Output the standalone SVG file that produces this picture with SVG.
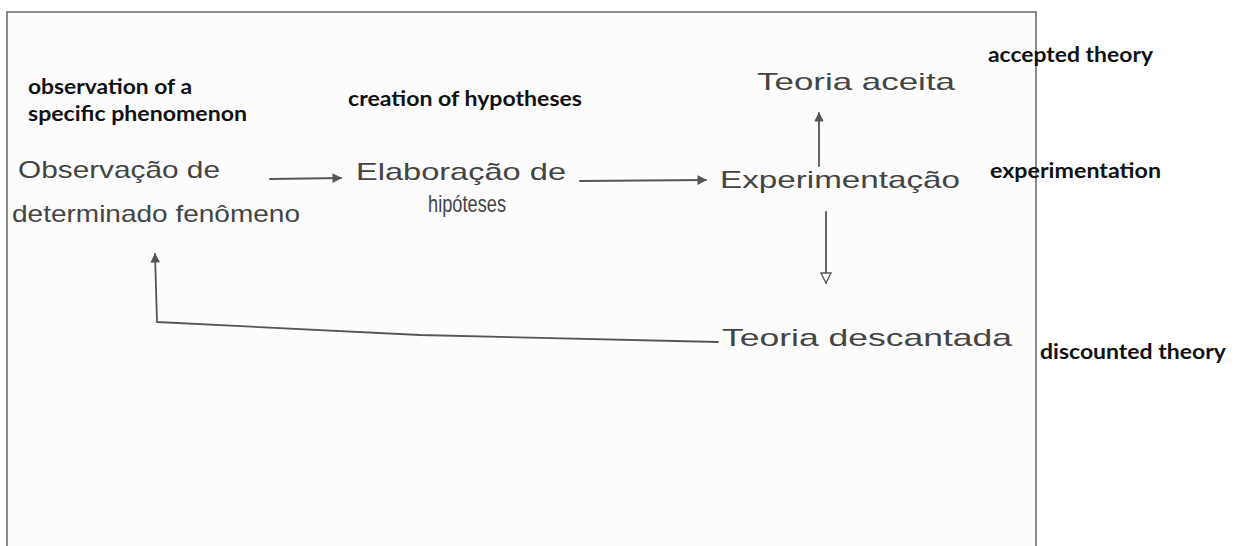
<svg xmlns="http://www.w3.org/2000/svg" width="1234" height="546" viewBox="0 0 1234 546">
<defs>
<style>
.lbl{font-family:Lato,"Open Sans","Liberation Sans",sans-serif;font-weight:bold;font-size:20px;fill:#111}
.hw{font-family:"Liberation Sans","DejaVu Sans",sans-serif;font-size:24px;fill:#444}
.ln{fill:none;stroke:#555;stroke-width:1.8;stroke-linecap:round;stroke-linejoin:round}
</style>
<marker id="ah" viewBox="0 0 10 10" refX="9" refY="5" markerWidth="10" markerHeight="10" markerUnits="userSpaceOnUse" orient="auto">
<path d="M1,1 L9,5 L1,9 Z" fill="#555" stroke="#555" stroke-width="1"/>
</marker>
<marker id="ao" viewBox="0 0 12 12" refX="11" refY="6" markerWidth="12" markerHeight="12" markerUnits="userSpaceOnUse" orient="auto">
<path d="M1,1 L11,6 L1,11 Z" fill="#fff" stroke="#555" stroke-width="1.3"/>
</marker>
</defs>
<rect x="0" y="0" width="1234" height="546" fill="#fff"/>
<path d="M7,546 L7,12 L1036,12 L1036,546" fill="#fcfcfc" stroke="#666" stroke-width="1.5"/>

<g id="obs">
<text class="hw" x="18" y="178" textLength="202" lengthAdjust="spacingAndGlyphs">Observação de</text>
<text class="hw" x="12" y="222" textLength="288" lengthAdjust="spacingAndGlyphs">determinado fenômeno</text>
<text class="lbl" x="28" y="94" textLength="164" lengthAdjust="spacingAndGlyphs">observation of a</text>
<text class="lbl" x="28" y="121" textLength="219" lengthAdjust="spacingAndGlyphs">specific phenomenon</text>
</g>
<g id="elab">
<text class="hw" x="356" y="180" textLength="210" lengthAdjust="spacingAndGlyphs">Elaboração de</text>
<text class="hw" x="428" y="212" textLength="78" lengthAdjust="spacingAndGlyphs">hipóteses</text>
<text class="lbl" x="348" y="106" textLength="234" lengthAdjust="spacingAndGlyphs">creation of hypotheses</text>
</g>
<g id="exp">
<text class="hw" x="720" y="188" textLength="240" lengthAdjust="spacingAndGlyphs">Experimentação</text>
<text class="lbl" x="990" y="178" textLength="171" lengthAdjust="spacingAndGlyphs">experimentation</text>
</g>
<g id="aceita">
<text class="hw" x="757" y="90" textLength="198" lengthAdjust="spacingAndGlyphs">Teoria aceita</text>
<text class="lbl" x="988" y="62" textLength="165" lengthAdjust="spacingAndGlyphs">accepted theory</text>
</g>
<g id="descartada">
<text class="hw" x="722" y="346" textLength="290" lengthAdjust="spacingAndGlyphs">Teoria descantada</text>
<text class="lbl" x="1040" y="359" textLength="186" lengthAdjust="spacingAndGlyphs">discounted theory</text>
</g>

<g id="connectors">
<path class="ln" d="M270,179 L341,178" marker-end="url(#ah)"/>
<path class="ln" d="M580,181 L706,180" marker-end="url(#ah)"/>
<path class="ln" d="M819,166 L819,113" marker-end="url(#ah)"/>
<path class="ln" d="M826,212 L826,283" marker-end="url(#ao)"/>
<path class="ln" d="M718,342 L420,335 L157,322 L155,254" marker-end="url(#ah)"/>
</g>
</svg>
